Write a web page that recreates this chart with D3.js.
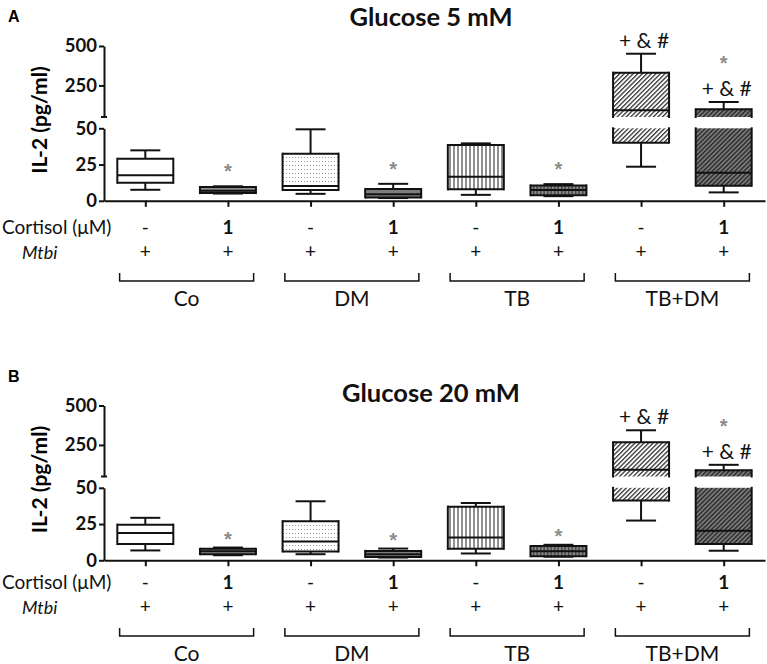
<!DOCTYPE html>
<html><head><meta charset="utf-8">
<script src="https://cdn.jsdelivr.net/npm/d3@7"></script>
<style>
body{margin:0;background:#fff;}
svg{display:block;font-family:Lato,"Open Sans",sans-serif;}
</style>
</head><body>
<svg id="c" width="767" height="664"></svg>
<script>
// ---------- data ----------
const categories = ["Co -", "Co 1", "DM -", "DM 1", "TB -", "TB 1", "TB+DM -", "TB+DM 1"];
const cortisolLabels = ["-", "1", "-", "1", "-", "1", "-", "1"];
const mtbiLabels = ["+", "+", "+", "+", "+", "+", "+", "+"];
const groupLabels = ["Co", "DM", "TB", "TB+DM"];
const yTicksLower = [0, 25, 50];
const yTicksUpper = [250, 500];
const panelLetters = ["A", "B"];
const panelTitles = ["Glucose 5 mM", "Glucose 20 mM"];

// Glucose 5 mM
const g5Min = [7.6, 5.0, 4.8, 1.9, 4.1, 3.2, 23.5, 5.8];
const g5Q1 = [12.4, 5.3, 7.4, 2.3, 7.9, 3.9, 40.1, 10.4];
const g5Med = [17.7, 7.0, 10.2, 4.6, 16.6, 7.4, 92, 19.3];
const g5Q3 = [29, 9.5, 32.5, 8.1, 38.5, 10.6, 331, 99];
const g5Max = [34.8, 10, 49.3, 11.7, 39.6, 11.5, 451, 145];

// Glucose 20 mM
const g20Min = [6.8, 3.5, 4.2, 1.9, 4.7, 2.5, 27.4, 6.6];
const g20Q1 = [11.2, 4.2, 6.1, 2.3, 7.9, 2.8, 41.2, 11.2];
const g20Med = [18.8, 6.3, 13, 4.2, 15.8, 6.3, 92, 20.4];
const g20Q3 = [24.6, 7.9, 27, 6.5, 37, 9.8, 267, 90];
const g20Max = [29.3, 8.8, 40.7, 8.1, 39.5, 10.7, 343, 124];

// significance marks (star = vs no cortisol; sig = vs other groups)
const starMarks = [false, true, false, true, false, true, false, true];
const sigMarks = ["", "", "", "", "", "", "+ & #", "+ & #"];

// ---------- drawing ----------
const svg = d3.select("#c");
const defs = svg.append("defs");

function pat(id, w, h, bg, draw) {
  const p = defs.append("pattern").attr("id", id).attr("patternUnits", "userSpaceOnUse")
    .attr("width", w).attr("height", h);
  p.append("rect").attr("width", w).attr("height", h).attr("fill", bg);
  draw(p);
}
pat("dots", 3, 4, "#fff", p => p.append("rect").attr("x", 1).attr("y", 1).attr("width", 1).attr("height", 1).attr("fill", "#999"));
pat("dotsDark", 3, 4, "#7d7d7d", p => p.append("rect").attr("x", 1).attr("y", 1).attr("width", 1).attr("height", 1).attr("fill", "#c8c8c8"));
pat("vlines", 4, 4, "#fff", p => p.append("rect").attr("x", 1.5).attr("y", 0).attr("width", 1).attr("height", 4).attr("fill", "#222"));
pat("vlinesDark", 3.5, 4, "#8a8a8a", p => p.append("rect").attr("x", 1.2).attr("y", 0).attr("width", 1).attr("height", 4).attr("fill", "#222"));
pat("diag", 3.2, 3.2, "#fff", p => {
  p.attr("patternTransform", "rotate(45)");
  p.append("rect").attr("x", 0).attr("y", 0).attr("width", 1.3).attr("height", 3.2).attr("fill", "#333");
});
pat("diagDark", 3.2, 3.2, "#7a7a7a", p => {
  p.attr("patternTransform", "rotate(45)");
  p.append("rect").attr("x", 0).attr("y", 0).attr("width", 1.4).attr("height", 3.2).attr("fill", "#2a2a2a");
});
const fills = ["#fff", "#8c8c8c", "url(#dots)", "url(#dotsDark)", "url(#vlines)", "url(#vlinesDark)", "url(#diag)", "url(#diagDark)"];

const x = d3.scalePoint().domain(categories).range([104, 765]).padding(0.5);
const boxW = 56, capW = 30;

const panels = [
  {letter: panelLetters[0], title: panelTitles[0], min: g5Min, q1: g5Q1, med: g5Med, q3: g5Q3, max: g5Max, oy: 0, ty: 0, titleY: 26},
  {letter: panelLetters[1], title: panelTitles[1], min: g20Min, q1: g20Q1, med: g20Med, q3: g20Q3, max: g20Max, oy: 359.5, ty: 355, titleY: 402}
];

panels.forEach(P => {
  const g = svg.append("g");
  const lower = d3.scaleLinear().domain([0, 50]).range([P.oy + 200.8, P.oy + 128.3]);
  const upper = d3.scaleLinear().domain([50, 500]).range([P.oy + 117, P.oy + 46]);
  const yv = v => v <= 50 ? lower(v) : upper(v);
  // pieces of a value span split at the axis break
  const pieces = (a, b) => {
    const lo = Math.min(a, b), hi = Math.max(a, b), out = [];
    if (lo < 50) out.push([lower(Math.min(hi, 50)), lower(lo)]);
    if (hi > 50) out.push([upper(hi), upper(Math.max(lo, 50))]);
    return out;
  };

  // panel letter & title
  g.append("text").attr("x", 8).attr("y", P.oy + 22).attr("font-family", "Liberation Sans, Arial, sans-serif")
    .attr("font-weight", "bold").attr("font-size", 16).text(P.letter);
  g.append("text").attr("x", 431).attr("y", P.titleY).attr("text-anchor", "middle")
    .attr("font-weight", "bold").attr("font-size", 25.5).attr("fill", "#111").text(P.title);

  // y axis label
  g.append("text").attr("transform", `translate(47,${P.oy + 120}) rotate(-90)`).attr("text-anchor", "middle")
    .attr("font-weight", "bold").attr("font-size", 21).text("IL-2 (pg/ml)");

  // y axes
  const styleAxis = sel => {
    sel.selectAll("path, line").attr("stroke", "#111").attr("stroke-width", 2);
    sel.selectAll("text").attr("font-family", "Lato, sans-serif").attr("font-weight", "bold")
      .attr("font-size", 18.5).attr("fill", "#111");
  };
  g.append("g").attr("transform", "translate(104,0)")
    .call(d3.axisLeft(lower).tickValues(yTicksLower).tickSize(5).tickSizeOuter(0).tickPadding(2).tickFormat(d3.format("d")))
    .call(styleAxis);
  g.append("g").attr("transform", "translate(104,0)")
    .call(d3.axisLeft(upper).tickValues(yTicksUpper).tickSize(5).tickSizeOuter(0).tickPadding(2).tickFormat(d3.format("d")))
    .call(styleAxis);
  g.append("line").attr("x1", 101).attr("x2", 107).attr("y1", upper(50)).attr("y2", upper(50))
    .attr("stroke", "#111").attr("stroke-width", 2);

  // x axis
  g.append("g").attr("transform", `translate(0,${lower(0)})`)
    .call(d3.axisBottom(x).tickSize(6).tickSizeOuter(0).tickFormat(""))
    .call(s => s.selectAll("path, line").attr("stroke", "#111").attr("stroke-width", 2));

  // boxes
  categories.forEach((c, i) => {
    const cx = x(c);
    const bg = g.append("g");
    // whiskers
    [[P.q3[i], P.max[i]], [P.q1[i], P.min[i]]].forEach(([a, b]) => {
      pieces(a, b).forEach(([y1, y2]) => bg.append("line").attr("x1", cx).attr("x2", cx).attr("y1", y1).attr("y2", y2)
        .attr("stroke", "#111").attr("stroke-width", 2));
    });
    [P.max[i], P.min[i]].forEach(v => bg.append("line").attr("x1", cx - capW / 2).attr("x2", cx + capW / 2)
      .attr("y1", yv(v)).attr("y2", yv(v)).attr("stroke", "#111").attr("stroke-width", 2));
    // box body
    pieces(P.q1[i], P.q3[i]).forEach(([y1, y2]) => {
      bg.append("rect").attr("x", cx - boxW / 2).attr("y", y1).attr("width", boxW).attr("height", y2 - y1)
        .attr("fill", fills[i]);
      [cx - boxW / 2, cx + boxW / 2].forEach(xx => bg.append("line").attr("x1", xx).attr("x2", xx)
        .attr("y1", y1 - 1).attr("y2", y2 + 1).attr("stroke", "#111").attr("stroke-width", 2));
    });
    [P.q3[i], P.q1[i], P.med[i]].forEach(v => bg.append("line").attr("x1", cx - boxW / 2).attr("x2", cx + boxW / 2)
      .attr("y1", yv(v)).attr("y2", yv(v)).attr("stroke", "#111").attr("stroke-width", 2));

    // annotations
    let top = yv(P.max[i]);
    let starY;
    if (sigMarks[i]) {
      g.append("text").attr("x", cx + 3).attr("y", top - 6).attr("text-anchor", "middle")
        .attr("font-size", 21).attr("fill", "#111").text(sigMarks[i]);
      starY = top - 32;
    } else {
      starY = top - 8 + (P.oy ? 6 : 0);
    }
    if (starMarks[i]) {
      g.append("text").attr("x", cx).attr("y", starY).attr("text-anchor", "middle")
        .attr("font-family", "Liberation Sans, Arial, sans-serif").attr("font-weight", "bold")
        .attr("font-size", 20).attr("fill", "#8c8c8c").text("*");
    }
  });

  // rows below axis
  const ty = P.ty;
  g.append("text").attr("x", 2).attr("y", ty + 234).attr("font-size", 19).attr("fill", "#111").text("Cortisol (\u03bcM)");
  g.append("text").attr("x", 22).attr("y", ty + 259).attr("font-size", 18).attr("font-style", "italic").attr("fill", "#111").text("Mtbi");
  categories.forEach((c, i) => {
    g.append("text").attr("x", x(c)).attr("y", ty + 234).attr("text-anchor", "middle")
      .attr("font-size", 19).attr("font-weight", cortisolLabels[i] === "1" ? "bold" : "normal").attr("fill", "#111")
      .text(cortisolLabels[i]);
    g.append("text").attr("x", x(c)).attr("y", ty + 258).attr("text-anchor", "middle")
      .attr("font-size", 19).attr("fill", "#111").text(mtbiLabels[i]);
  });
  groupLabels.forEach((gl, k) => {
    const a = x(categories[2 * k]), b = x(categories[2 * k + 1]);
    const mid = (a + b) / 2, half = 67;
    g.append("path").attr("d", `M${mid - half},${ty + 273}V${ty + 281}H${mid + half}V${ty + 273}`)
      .attr("fill", "none").attr("stroke", "#111").attr("stroke-width", 1.5);
    g.append("text").attr("x", mid).attr("y", ty + 306).attr("text-anchor", "middle")
      .attr("font-size", 21).attr("fill", "#111").text(gl);
  });
});
</script>
</body></html>
